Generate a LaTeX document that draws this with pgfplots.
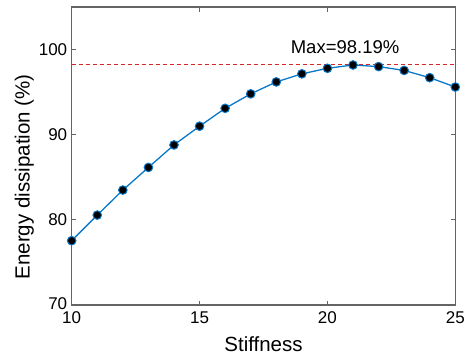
\documentclass[border=0pt]{standalone}
\usepackage{fontspec}
\setmainfont{Liberation Sans}
\usepackage{pgfplots}
\pgfplotsset{compat=1.18}
\definecolor{mblue}{RGB}{10,120,200}
\definecolor{axgray}{RGB}{100,100,100}
\definecolor{mred}{RGB}{210,40,40}
\begin{document}
\begin{tikzpicture}
\begin{axis}[
  scale only axis,
  width=383.6pt, height=298pt,
  xmin=10, xmax=25, ymin=70, ymax=105,
  xtick={10,15,20,25}, ytick={70,80,90,100},
  yticklabels={\raisebox{2pt}{70},80,90,100},
  tick align=inside,
  major tick length=4.5pt,
  axis line style={axgray, line width=1.2pt},
  every tick/.style={axgray, line width=0.8pt},
  tick label style={font=\fontsize{17}{17}\selectfont, text=black},
  xticklabel style={yshift=-3pt},
  yticklabel style={xshift=-1pt},
  /pgf/number format/assume math mode=true,
  xlabel={Stiffness},
  ylabel={Energy dissipation (\%)},
  label style={font=\fontsize{20.5}{20.5}\selectfont},
  ylabel style={at={(ticklabel cs:0.43)}, anchor=south, yshift=-2pt},
  xlabel style={yshift=-6pt},
  clip=false,
]
\addplot[mred, line width=0.9pt, dash pattern=on 4pt off 3pt] coordinates {(10,98.25) (25,98.25)};
\addplot[mblue, line width=1.3pt, mark=*, mark size=4.3pt,
  mark options={fill=black, draw=mblue, line width=1pt, solid}] coordinates {
(10,77.55) (11,80.56) (12,83.5) (13,86.16) (14,88.8) (15,91.0) (16,93.1) (17,94.8)
(18,96.2) (19,97.15) (20,97.8) (21,98.19) (22,98.0) (23,97.55) (24,96.7) (25,95.6)
};
\node[font=\fontsize{18.5}{18.5}\selectfont] at (axis cs:20.69,100.3) {Max=98.19\%};
\path (rel axis cs:0,0) ++(-71.7pt,-52pt) (rel axis cs:1,1) ++(14.7pt,7pt);
\end{axis}
\end{tikzpicture}
\end{document}
